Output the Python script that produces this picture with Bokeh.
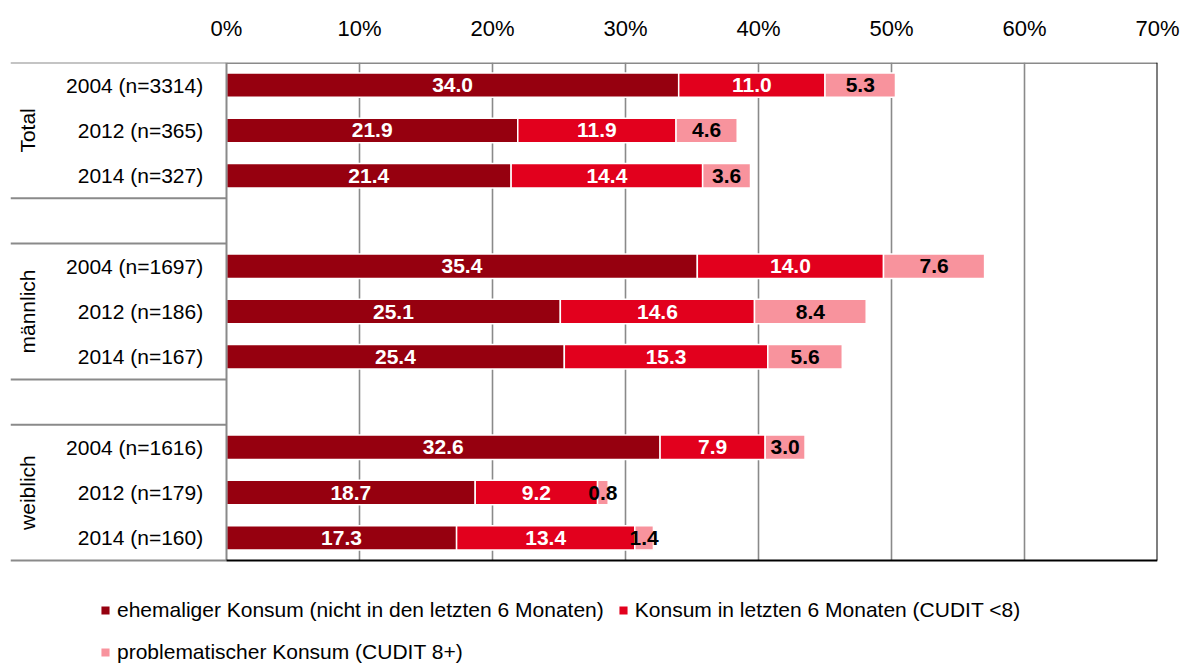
from math import pi
from bokeh.plotting import figure
from bokeh.models import Range1d, FixedTicker, ColumnDataSource, Legend, LegendItem
from bokeh.core.properties import value
from bokeh.embed import file_html
from bokeh.resources import INLINE

# ---------------- data ----------------
categories = ["2004 (n=3314)", "2012 (n=365)", "2014 (n=327)",
              "2004 (n=1697)", "2012 (n=186)", "2014 (n=167)",
              "2004 (n=1616)", "2012 (n=179)", "2014 (n=160)"]
groups = ["Total", "männlich", "weiblich"]
ehemalig = [34.0, 21.9, 21.4, 35.4, 25.1, 25.4, 32.6, 18.7, 17.3]
konsum6 = [11.0, 11.9, 14.4, 14.0, 14.6, 15.3, 7.9, 9.2, 13.4]
problem = [5.3, 4.6, 3.6, 7.6, 8.4, 5.6, 3.0, 0.8, 1.4]
series_names = ["ehemaliger Konsum (nicht in den letzten 6 Monaten)",
                "Konsum in letzten 6 Monaten (CUDIT <8)",
                "problematischer Konsum (CUDIT 8+)"]
tick_values = [0, 10, 20, 30, 40, 50, 60, 70]
tick_labels = ["0%", "10%", "20%", "30%", "40%", "50%", "60%", "70%"]

# ---------------- style ----------------
FONT = "Liberation Sans"
COLORS = ["#96000f", "#e2001d", "#f8939d"]
LABEL_COLORS = ["white", "white", "black"]
GRID = "#8a8a8a"
X_MAX = 70
X_MIN = -216 / 13.3          # label area left of the 0% line
N_SLOTS = 11                 # 3 groups x 3 bars + 2 empty slots
Y_BOTTOM = N_SLOTS * 602 / 498   # frame continues below the bars for the legend
BAR_H = 0.54

# slot positions: 3 bars per group, one empty slot between groups
pos = [g * 4 + i + 0.5 for g in range(len(groups)) for i in range(3)]
group_pos = [g * 4 + 1.5 for g in range(len(groups))]

p = figure(width=1182, height=664, x_range=Range1d(X_MIN, X_MAX),
           y_range=Range1d(Y_BOTTOM, 0), x_axis_location="above", y_axis_location=None,
           output_backend="svg", toolbar_location=None,
           min_border_left=10, min_border_right=25, min_border_top=62, min_border_bottom=0)
p.outline_line_color = None
p.background_fill_color = "white"
p.border_fill_color = "white"
p.xgrid.visible = False
p.ygrid.visible = False

# top axis
ax = p.xaxis[0]
ax.ticker = FixedTicker(ticks=tick_values)
ax.major_label_overrides = {v: l for v, l in zip(tick_values, tick_labels)}
ax.axis_line_color = None
ax.major_tick_line_color = None
ax.minor_tick_line_color = None
ax.major_label_text_font = FONT
ax.major_label_text_font_size = "22px"
ax.major_label_text_color = "black"
ax.major_label_standoff = 16

# vertical grid lines (only over the bar area)
grid_x = tick_values[1:-1]
p.segment(x0=grid_x, x1=grid_x, y0=[0] * len(grid_x), y1=[N_SLOTS] * len(grid_x),
          line_color=GRID, line_width=1.6)

# stacked bars
renderers = []
lefts = [0.0] * len(ehemalig)
for s, vals in enumerate([ehemalig, konsum6, problem]):
    rights = [l + v for l, v in zip(lefts, vals)]
    src = ColumnDataSource(dict(y=pos, left=lefts, right=rights,
                                mid=[(l + r) / 2 for l, r in zip(lefts, rights)],
                                lab=[f"{v:.1f}" for v in vals]))
    r = p.hbar(y="y", left="left", right="right", height=BAR_H, source=src,
               fill_color=COLORS[s], line_color="white", line_width=1.5)
    renderers.append(r)
    p.text(x="mid", y="y", text="lab", source=src, text_align="center",
           text_baseline="middle", text_font=value(FONT), text_font_style="bold",
           text_font_size="21px", text_color=LABEL_COLORS[s])
    lefts = rights

# frame lines
sep_y = [0, 3, 4, 7, 8, N_SLOTS]
p.segment(x0=[X_MIN] * len(sep_y), x1=[0] * len(sep_y), y0=sep_y, y1=sep_y,
          line_color=GRID, line_width=2)
p.segment(x0=[0], x1=[X_MAX], y0=[0], y1=[0], line_color=GRID, line_width=3)
p.segment(x0=[0], x1=[0], y0=[0], y1=[N_SLOTS], line_color=GRID, line_width=2)
p.segment(x0=[0], x1=[X_MAX], y0=[N_SLOTS], y1=[N_SLOTS], line_color="black", line_width=2)
p.segment(x0=[X_MAX], x1=[X_MAX], y0=[0], y1=[N_SLOTS], line_color="black", line_width=2)

# category labels
p.text(x=[-1.75] * len(categories), y=pos, text=categories, text_align="right",
       text_baseline="middle", text_font=value(FONT), text_font_size="21px",
       text_color="black")
# group labels
p.text(x=[-15.0] * len(groups), y=group_pos, text=groups, angle=pi / 2,
       text_align="center", text_baseline="middle", text_font=value(FONT),
       text_font_size="21px", text_color="black")

# legend
legend = Legend(items=[LegendItem(label=n, renderers=[r]) for n, r in zip(series_names, renderers)],
                orientation="horizontal", ncols=2, location=(89, -2),
                label_text_font=FONT, label_text_font_size="21px", label_text_color="black",
                glyph_width=12, glyph_height=12, label_standoff=6, spacing=13,
                padding=0, margin=0, border_line_color=None, background_fill_alpha=0,
                label_height=29)
p.add_layout(legend)

open("out.html", "w").write(file_html(p, INLINE))
